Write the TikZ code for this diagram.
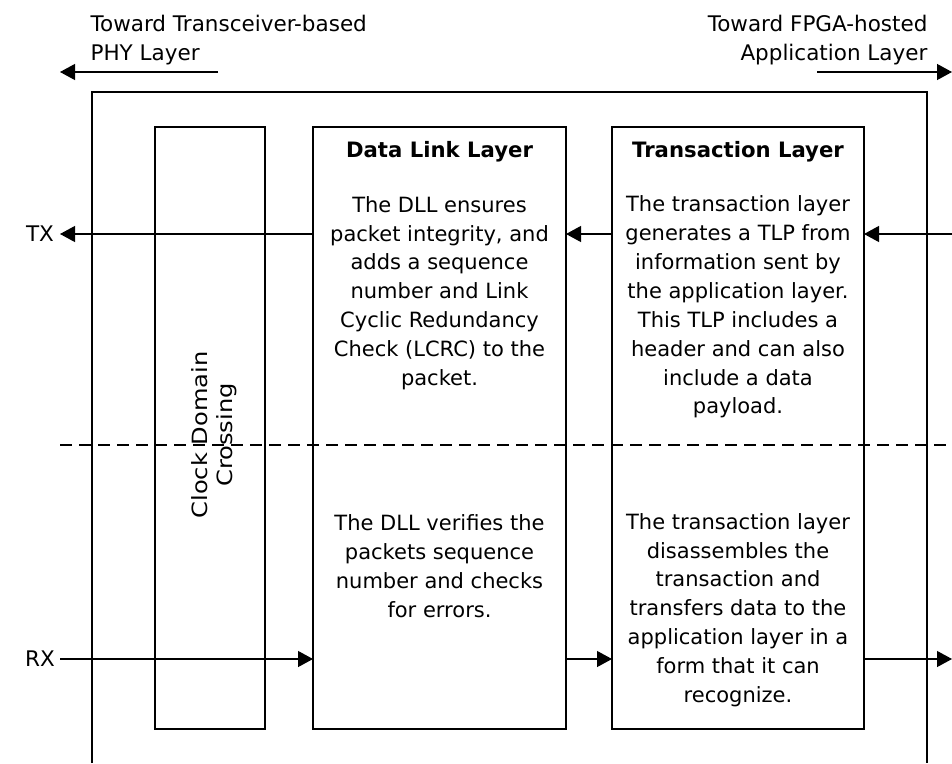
\documentclass[tikz,border=0pt]{standalone}
\usepackage{fontspec}
\setmainfont{DejaVu Sans}
\usetikzlibrary{arrows.meta}
\begin{document}
\begin{tikzpicture}[x=1pt,y=-1pt,
  line width=1.2pt,
  arr/.style={-{Triangle[length=15pt,width=16pt]}},
  layerbox/.style={draw, inner sep=0pt, outer sep=0pt},
  body/.style={align=center, inner sep=0pt, font=\fontsize{21}{28.9}\selectfont},
  ttl/.style={inner sep=0pt, font=\fontsize{21.2}{25}\selectfont\bfseries},
  lbl/.style={inner sep=0pt, font=\fontsize{21.5}{29}\selectfont},
  frame/.style={draw}]
\useasboundingbox (0,0) rectangle (952,763);
\fill[white] (0,0) rectangle (952,763);

% outer frame (open at bottom)
\draw[frame] (92,763) -- (92,92) -- (927,92) -- (927,763);

% layer boxes
\node[layerbox, minimum width=110pt, minimum height=602pt] (cdc) at (210,428) {};
\node[layerbox, minimum width=253pt, minimum height=602pt] (dll) at (439.5,428) {};
\node[layerbox, minimum width=252pt, minimum height=602pt] (tl)  at (738,428) {};

% titles
\node[ttl] (dllt) at (439.5,152) {Data Link Layer};
\node[ttl] (tlt)  at (738,152) {Transaction Layer};

% body texts
\node[body] (dlltx) at (439.5,293) {The DLL ensures\\packet integrity, and\\adds a sequence\\number and Link\\Cyclic Redundancy\\Check (LCRC) to the\\packet.};
\node[body] (tltx) at (738,307) {The transaction layer\\generates a TLP from\\information sent by\\the application layer.\\This TLP includes a\\header and can also\\include a data\\payload.};
\node[body] (dllrx) at (439.5,566) {The DLL verifies the\\packets sequence\\number and checks\\for errors.};
\node[body] (tlrx) at (738,610) {The transaction layer\\disassembles the\\transaction and\\transfers data to the\\application layer in a\\form that it can\\recognize.};

% clock domain crossing label
\node[inner sep=0pt, rotate=90] (cdct) at (215,435)
  {\scalebox{1.15}[1]{\fontsize{21}{25}\selectfont\begin{tabular}{@{}c@{}}Clock Domain\\Crossing\end{tabular}}};

% top labels
\node[lbl, align=left, anchor=west] (phy) at (90,40.5) {Toward Transceiver-based\\PHY Layer};
\node[lbl, align=right, anchor=east] (app) at (928,40.5) {Toward FPGA-hosted\\Application Layer};

% side labels
\node[lbl] (txl) at (40,234) {TX};
\node[lbl] (rxl) at (40,659) {RX};

% free ends
\coordinate (phyS) at (218,72);
\coordinate (phyE) at (60,72);
\coordinate (appS) at (817,72);
\coordinate (appE) at (952,72);
\coordinate (txR) at (952,234);
\coordinate (txL) at (60,234);
\coordinate (rxL) at (60,659);
\coordinate (rxR) at (952,659);
\coordinate (dashL) at (60,445);
\coordinate (dashR) at (952,445);

% top arrows
\draw[arr] (phyS) -- (phyE);
\draw[arr] (appS) -- (appE);

% TX path
\draw[arr] (txR) -- (tl.east |- txR);
\draw[arr] (tl.west |- txR) -- (dll.east |- txR);
\draw[arr] (dll.west |- txR) -- (txL);

% RX path
\draw[arr] (rxL) -- (dll.west |- rxL);
\draw[arr] (dll.east |- rxL) -- (tl.west |- rxL);
\draw[arr] (tl.east |- rxL) -- (rxR);

% TX/RX divider
\draw[dash pattern=on 12pt off 7pt] (dashL) -- (dashR);
\end{tikzpicture}
\end{document}
